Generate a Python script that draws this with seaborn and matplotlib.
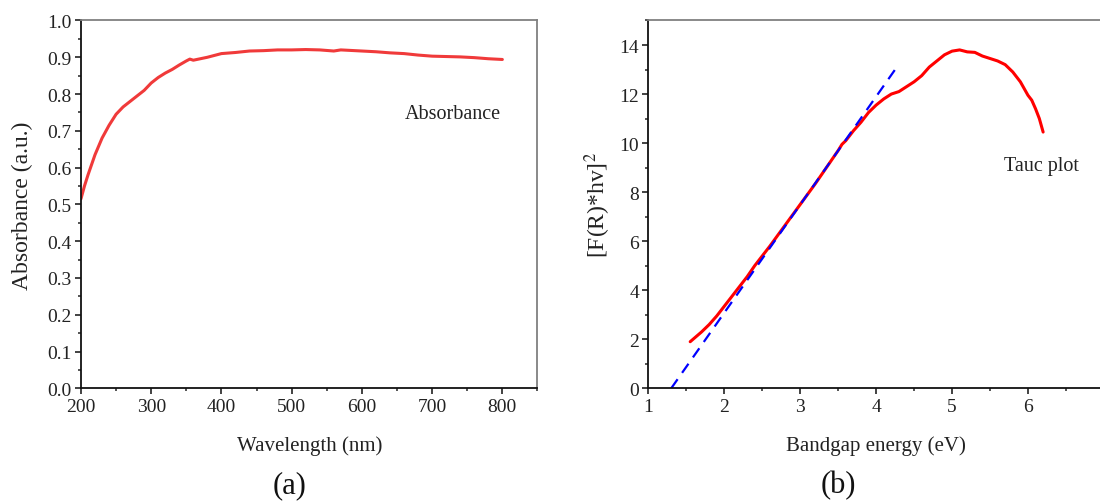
import matplotlib
matplotlib.use("Agg")
import matplotlib.pyplot as plt
from matplotlib.ticker import MultipleLocator
import seaborn as sns
import pandas as pd

# ---- data ----
wavelength = [200, 205, 210, 220, 230, 240, 250, 260, 270, 280, 290, 300, 310, 320,
              330, 340, 350, 355, 360, 370, 380, 390, 400, 420, 440, 460, 480, 500,
              520, 540, 560, 570, 580, 600, 620, 640, 660, 680, 700, 720, 740, 760,
              780, 800]
absorbance = [0.515, 0.55, 0.58, 0.635, 0.68, 0.715, 0.745, 0.765, 0.78, 0.795, 0.81,
              0.83, 0.845, 0.857, 0.867, 0.879, 0.89, 0.895, 0.892, 0.896, 0.9, 0.905,
              0.91, 0.913, 0.917, 0.918, 0.92, 0.92, 0.921, 0.92, 0.917, 0.92, 0.919,
              0.917, 0.915, 0.912, 0.91, 0.906, 0.903, 0.902, 0.901, 0.899, 0.896, 0.894]

energy = [1.55, 1.7, 1.8, 1.9, 2.0, 2.1, 2.2, 2.3, 2.4, 2.5, 2.6, 2.8, 3.0, 3.2, 3.4,
          3.5, 3.55, 3.6, 3.7, 3.8, 3.9, 4.0, 4.1, 4.2, 4.3, 4.4, 4.5, 4.6, 4.7, 4.8,
          4.9, 5.0, 5.1, 5.2, 5.3, 5.4, 5.5, 5.6, 5.7, 5.8, 5.9, 6.0, 6.05, 6.1, 6.15, 6.2]
tauc = [1.9, 2.3, 2.6, 2.95, 3.35, 3.75, 4.15, 4.55, 5.0, 5.4, 5.8, 6.65, 7.5, 8.35,
        9.25, 9.7, 9.95, 10.1, 10.5, 10.85, 11.25, 11.55, 11.8, 12.0, 12.1, 12.3, 12.5,
        12.75, 13.1, 13.35, 13.6, 13.75, 13.8, 13.72, 13.7, 13.55, 13.45, 13.35, 13.2,
        12.9, 12.5, 11.95, 11.75, 11.4, 11.0, 10.45]

fit_x = [1.3, 4.25]
fit_y = [0.0, 13.0]

sns.set_style("ticks")
plt.rcParams["font.family"] = ["Liberation Serif", "DejaVu Serif"]
plt.rcParams["mathtext.fontset"] = "stix"

fig = plt.figure(figsize=(11, 5.02), dpi=100)
axA = fig.add_axes([0.0736, 0.2245, 0.415, 0.7327])
axB = fig.add_axes([0.5895, 0.2245, 0.414, 0.7327])

dfA = pd.DataFrame({"wl": wavelength, "ab": absorbance})
dfB = pd.DataFrame({"E": energy, "T": tauc})
dfF = pd.DataFrame({"E": fit_x, "T": fit_y})

sns.lineplot(data=dfA, x="wl", y="ab", ax=axA, color="#f03a3a", linewidth=2.2, sort=False)
sns.lineplot(data=dfB, x="E", y="T", ax=axB, color="#ff0000", linewidth=2.2, sort=False)
sns.lineplot(data=dfF, x="E", y="T", ax=axB, color="#0000ff", linewidth=1.6,
             linestyle=(0, (5, 3.5)))

axA.set_xlim(200, 850)
axA.set_ylim(0, 1.0)
axA.xaxis.set_minor_locator(MultipleLocator(50))
axA.yaxis.set_major_locator(MultipleLocator(0.1))
axA.yaxis.set_minor_locator(MultipleLocator(0.05))
axA.set_xticks([200, 300, 400, 500, 600, 700, 800])
axA.set_yticks([i / 10 for i in range(11)])
axA.set_yticklabels([f"{i / 10:.1f}" for i in range(11)])

axB.set_xlim(1, 7)
axB.set_ylim(0, 15)
axB.set_xticks([1, 2, 3, 4, 5, 6])
axB.xaxis.set_minor_locator(MultipleLocator(0.5))
axB.set_yticks([0, 2, 4, 6, 8, 10, 12, 14])
axB.yaxis.set_minor_locator(MultipleLocator(1))

for ax in (axA, axB):
    ax.tick_params(which="major", direction="out", length=4.3, width=1.2,
                   labelsize=14, colors="#222222", pad=2.5)
    ax.tick_params(which="minor", direction="out", length=2.5, width=1.1)
    for s in ("left", "bottom"):
        ax.spines[s].set_color("#111111")
        ax.spines[s].set_linewidth(1.3)
    for s in ("top", "right"):
        ax.spines[s].set_visible(True)
        ax.spines[s].set_color("#808080")
        ax.spines[s].set_linewidth(1.3)

axA.set_xlabel("Wavelength (nm)", fontsize=15, color="#222222", va="center")
axA.set_ylabel("Absorbance (a.u.)", fontsize=17, color="#222222", va="center")
axB.set_xlabel("Bandgap energy (eV)", fontsize=15, color="#222222", va="center")
axB.set_ylabel(r"[F(R)*hv]$^{2}$", fontsize=17, color="#222222", va="center")
axA.xaxis.set_label_coords(0.5, -0.154)
axB.xaxis.set_label_coords(0.5, -0.154)
axA.yaxis.set_label_coords(-0.128, 0.5)
axB.yaxis.set_label_coords(-0.112, 0.5)

axA.text(661, 0.748, "Absorbance", fontsize=14.5, color="#222222", va="center", ha="left")
axB.text(5.69, 9.07, "Tauc plot", fontsize=14.5, color="#222222", va="center", ha="left")

fig.text(290 / 1100, 1 - 486 / 502, "(a)", fontsize=22, ha="center", va="center", color="#111111")
fig.text(838 / 1100, 1 - 486 / 502, "(b)", fontsize=22, ha="center", va="center", color="#111111")

fig.savefig("out.png", dpi=100)
